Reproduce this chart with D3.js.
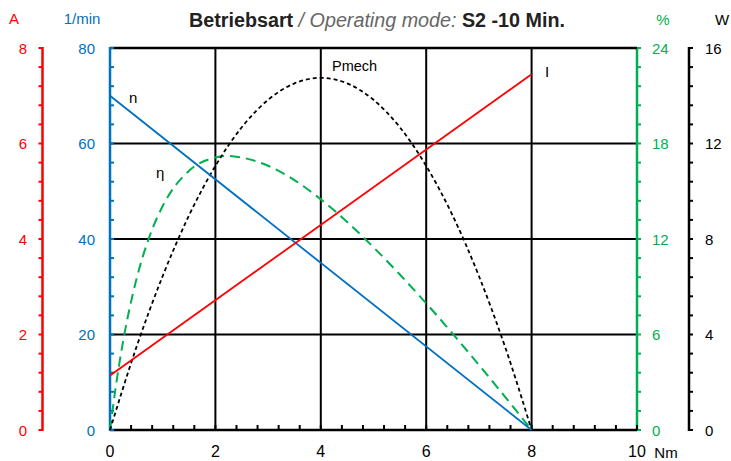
<!DOCTYPE html>
<html><head><meta charset="utf-8">
<script src="https://cdn.jsdelivr.net/npm/d3@7"></script>
<style>body{margin:0;background:#fff}svg{display:block;font-family:"Liberation Sans",Arial,sans-serif}</style>
</head><body><svg id="c" width="731" height="461"></svg>
<script>
// ---- data ----
const xTicks = [0, 2, 4, 6, 8, 10];
const speedTicks = [0, 20, 40, 60, 80];
const currentTicks = [0, 2, 4, 6, 8];
const effTicks = [0, 6, 12, 18, 24];
const powerTicks = [0, 4, 8, 12, 16];

const speedTorque = [0, 8];
const speedValues = [70, 0];           // n, 1/min
const currentTorque = [0, 8];
const currentValues = [1.14, 7.45];    // I, A
const powerTorque = [0, 0.5, 1, 1.5, 2, 2.5, 3, 3.5, 4, 4.5, 5, 5.5, 6, 6.5, 7, 7.5, 8];
const powerValues = [0, 3.46, 6.45, 8.99, 11.06, 12.68, 13.83, 14.52, 14.75, 14.52, 13.83, 12.68, 11.06, 8.99, 6.45, 3.46, 0]; // Pmech, W
const effTorque = [0, 0.1, 0.25, 0.5, 0.75, 1, 1.5, 2, 2.25, 2.5, 3, 3.5, 4, 4.5, 5, 5.5, 6, 6.5, 7, 7.5, 8];
const effValues = [0, 2.5, 5.6, 9.45, 12.16, 14.07, 16.29, 17.12, 17.22, 17.12, 16.6, 15.7, 14.49, 13.07, 11.48, 9.77, 7.96, 6.06, 4.09, 2.07, 0]; // eta, %

// ---- layout ----
const RED = "#ff0000", BLUE = "#0070c0", GREEN = "#00b050", BLACK = "#000";
const L = 110, R = 637, T = 48, B = 430;
const svg = d3.select("#c");
const x = d3.scaleLinear().domain([0, 10]).range([L, R]);
const yN = d3.scaleLinear().domain([0, 80]).range([B, T]);
const yA = d3.scaleLinear().domain([0, 8]).range([B, T]);
const yE = d3.scaleLinear().domain([0, 24]).range([B, T]);
const yW = d3.scaleLinear().domain([0, 16]).range([B, T]);

// grid
const g = svg.append("g");
g.selectAll("line.v").data(xTicks.filter(d => d > 0 && d < 10)).join("line")
  .attr("x1", d => x(d)).attr("x2", d => x(d)).attr("y1", T).attr("y2", B)
  .attr("stroke", BLACK).attr("stroke-width", 2);
g.selectAll("line.h").data(speedTicks.filter(d => d > 0)).join("line")
  .attr("x1", L).attr("x2", R).attr("y1", d => yN(d)).attr("y2", d => yN(d))
  .attr("stroke", BLACK).attr("stroke-width", 2);

// axis helper (minor ticks = 5 subdivisions)
function vAxis(scale, xpos, dir, color, ticks, labelX, anchor) {
  const ag = svg.append("g");
  const [d0, d1] = scale.domain();
  const step = (ticks[1] - ticks[0]) / 5;
  const minors = d3.range(0, Math.round((d1 - d0) / step) + 1).map(i => d0 + i * step);
  ag.selectAll("line.t").data(minors).join("line")
    .attr("x1", xpos).attr("x2", xpos + dir * 4)
    .attr("y1", d => scale(d)).attr("y2", d => scale(d))
    .attr("stroke", color).attr("stroke-width", 2);
  ag.append("line").attr("x1", xpos).attr("x2", xpos).attr("y1", T - 1).attr("y2", B + 1)
    .attr("stroke", color).attr("stroke-width", 2.5);
  ag.selectAll("text").data(ticks).join("text")
    .attr("x", labelX).attr("y", d => scale(d) + 5.5)
    .attr("text-anchor", anchor).attr("font-size", 15).attr("fill", color)
    .text(d => d);
}
vAxis(yA, 42.5, -1, RED, currentTicks, 27, "end");
vAxis(yE, R, 1, GREEN, effTicks, 652, "start");
vAxis(yW, 689, 1, BLACK, powerTicks, 705, "start");

// x axis
const xg = svg.append("g");
const xMinor = d3.range(0, 26).map(i => i * 0.4);
xg.selectAll("line").data(xMinor).join("line")
  .attr("x1", d => x(d)).attr("x2", d => x(d)).attr("y1", B).attr("y2", B - 5)
  .attr("stroke", BLACK).attr("stroke-width", 2);
xg.append("line").attr("x1", L).attr("x2", R).attr("y1", B).attr("y2", B)
  .attr("stroke", BLACK).attr("stroke-width", 2.5);
xg.selectAll("text").data(xTicks).join("text")
  .attr("x", d => x(d)).attr("y", 457).attr("text-anchor", "middle")
  .attr("font-size", 16).attr("fill", BLACK).text(d => d);
// top border
svg.append("line").attr("x1", L).attr("x2", R).attr("y1", T).attr("y2", T)
  .attr("stroke", BLACK).attr("stroke-width", 2.5);
vAxis(yN, L, 1, BLUE, speedTicks, 95, "end");

// curves
const lineOf = (xs, ys, ys_scale, curve) => d3.line()
  .x((d, i) => x(xs[i])).y(d => ys_scale(d)).curve(curve)(ys);
svg.append("path").attr("d", lineOf(effTorque, effValues, yE, d3.curveMonotoneX))
  .attr("fill", "none").attr("stroke", GREEN).attr("stroke-width", 2).attr("stroke-dasharray", "10,6");
svg.append("path").attr("d", lineOf(powerTorque, powerValues, yW, d3.curveMonotoneX))
  .attr("fill", "none").attr("stroke", BLACK).attr("stroke-width", 1.8).attr("stroke-dasharray", "4,3");
svg.append("path").attr("d", lineOf(speedTorque, speedValues, yN, d3.curveLinear))
  .attr("fill", "none").attr("stroke", BLUE).attr("stroke-width", 1.8);
svg.append("path").attr("d", lineOf(currentTorque, currentValues, yA, d3.curveLinear))
  .attr("fill", "none").attr("stroke", RED).attr("stroke-width", 1.8);

// curve labels
const lab = (t, lx, ly) => svg.append("text").attr("x", lx).attr("y", ly)
  .attr("font-size", 15).attr("fill", BLACK).text(t);
lab("n", 129, 103);
lab("η", 156, 178);
lab("Pmech", 332, 71).attr("font-size", 14.5);
lab("I", 545, 77);

// axis titles
const at = (t, lx, ly, c, anchor) => svg.append("text").attr("x", lx).attr("y", ly)
  .attr("font-size", 15).attr("fill", c).attr("text-anchor", anchor).text(t);
at("A", 14, 24, RED, "middle");
at("1/min", 82, 24, BLUE, "middle");
at("%", 663, 25, GREEN, "middle");
at("W", 715, 25, BLACK, "start");
at("Nm", 666, 458, BLACK, "middle");

// title
const title = svg.append("text").attr("x", 189).attr("y", 27).attr("font-size", 19.5)
  .attr("textLength", 376).attr("lengthAdjust", "spacingAndGlyphs");
title.append("tspan").attr("font-weight", "bold").attr("fill", "#222").text("Betriebsart");
title.append("tspan").attr("font-style", "italic").attr("fill", "#666").text(" / Operating mode: ");
title.append("tspan").attr("font-weight", "bold").attr("fill", "#222").text("S2 -10 Min.");
</script></body></html>
